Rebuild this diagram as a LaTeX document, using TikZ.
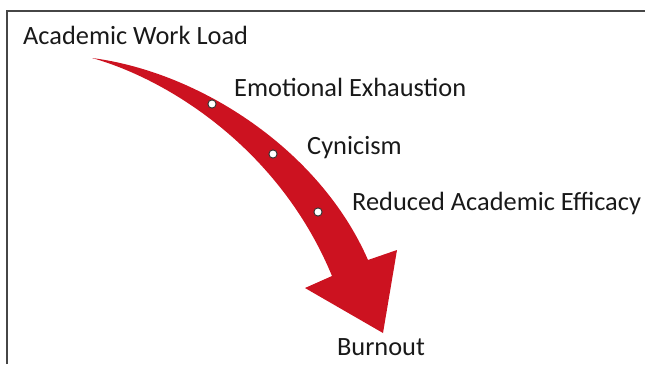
\documentclass[tikz,border=0pt]{standalone}
\usepackage{fontspec}
\setmainfont{Carlito}
\definecolor{arrowred}{RGB}{204,18,32}
\definecolor{framegray}{RGB}{70,70,70}
\definecolor{textgray}{RGB}{25,25,25}
\begin{document}
\begin{tikzpicture}[x=0.03cm,y=-0.03cm,
    lbl/.style={anchor=west,inner sep=0pt,text=textgray,font=\fontsize{22.5}{27}\selectfont},
    dot/.style={circle,draw=black!80,fill=white,line width=0.8pt,inner sep=0pt,minimum size=7pt}]
        \useasboundingbox (0,0) rectangle (645,364);
        \draw[framegray,line width=1.3pt] (7,364)--(7,11)--(645,11);
        % curved arrow
        \fill[arrowred] (92,58) .. controls (200,72) and (320,150) .. (368,260)
            -- (397,250) -- (383,333) -- (305,288) -- (332,276)
            .. controls (280,150) and (170,80) .. (92,58) -- cycle;
        \node[dot] (d1) at (212,104) {};
        \node[dot] (d2) at (273,154) {};
        \node[dot] (d3) at (318,212) {};
        \node[lbl] (load) at (23,35) {Academic Work Load};
        \node[lbl] (exh) at (234,87) {Emotional Exhaustion};
        \node[lbl] (cyn) at (307,148) {Cynicism};
        \node[lbl] (eff) at (352,203) {Reduced Academic Efficacy};
        \node[lbl,anchor=center] (burn) at (381,347) {Burnout};
\end{tikzpicture}
\end{document}
